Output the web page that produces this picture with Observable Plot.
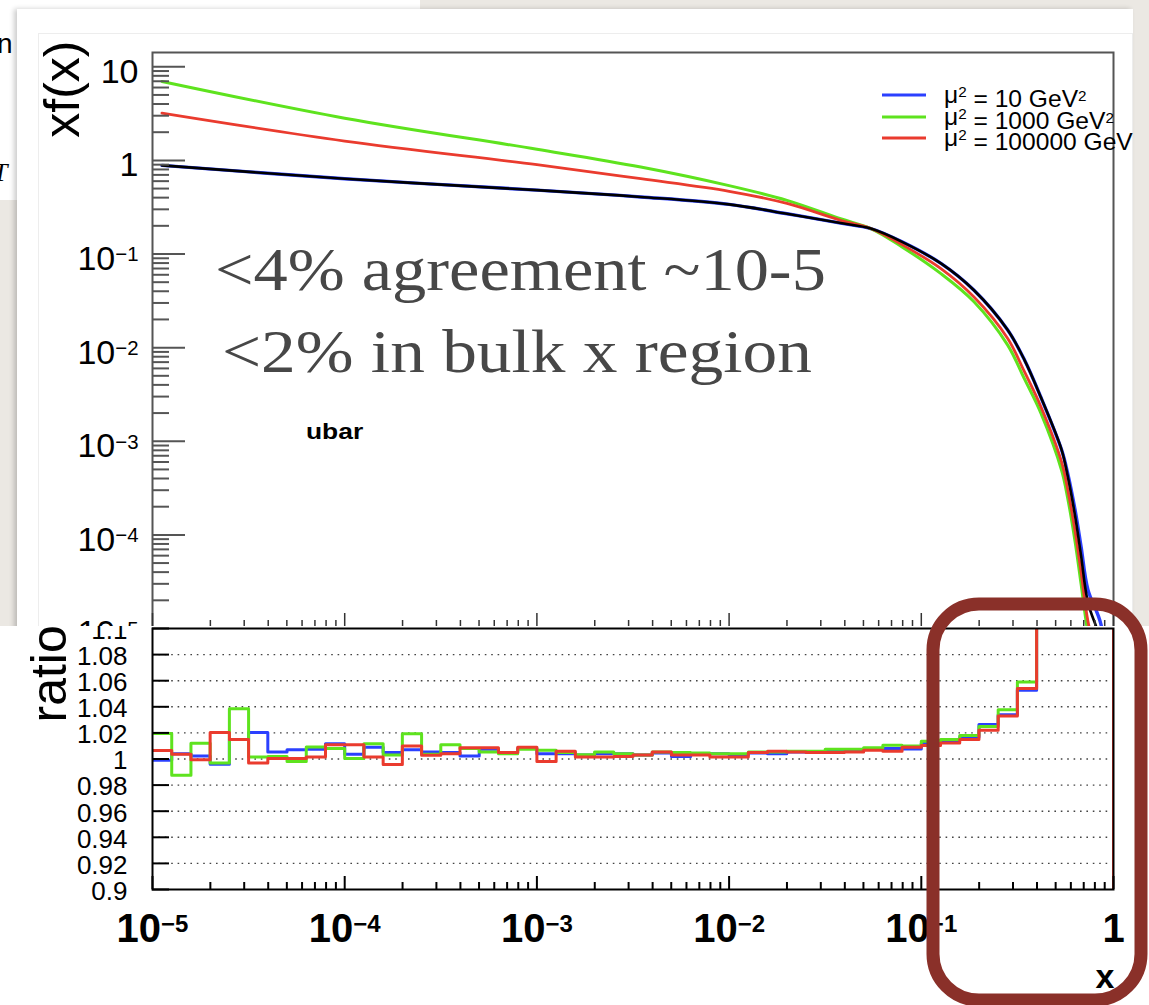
<!DOCTYPE html>
<html><head><meta charset="utf-8">
<script src="https://cdn.jsdelivr.net/npm/d3@7"></script>
<script src="https://cdn.jsdelivr.net/npm/@observablehq/plot@0.6"></script>
<style>
html,body{margin:0;padding:0;}
body{width:1149px;height:1005px;position:relative;overflow:hidden;background:#ebe8e3;font-family:"Liberation Sans",Arial,sans-serif;}
#topwhite{position:absolute;left:0;top:0;width:420px;height:12px;background:#fff;}
#leftwhite{position:absolute;left:0;top:0;width:17px;height:200px;background:#fff;}
#card{position:absolute;left:17px;top:9px;width:1116px;height:991px;background:#fff;box-shadow:-3px 0 5px rgba(0,0,0,0.2);}
#cframe{position:absolute;left:38px;top:33px;width:1093px;height:954px;border:1px solid #ededed;}
.layer{position:absolute;left:0;}
</style></head><body>
<div id="topwhite"></div><div id="leftwhite"></div><div id="card"></div><div id="cframe"></div>
<div id="top" class="layer" style="top:0px"></div>
<div id="ratio" class="layer" style="top:626px"></div>
<div id="over" class="layer" style="top:0px;pointer-events:none"></div>
<script>
// ---------- data ----------
const xDomain = [1e-5, 1];
const xMajor = [1e-5, 1e-4, 1e-3, 1e-2, 1e-1, 1];
const yTopDomain = [1e-5, 14.2];
const yTopMajor = [1e-5, 1e-4, 1e-3, 1e-2, 1e-1, 1, 10];

// xf(x) curves (ubar)
const curveX  = [1.12e-5, 1e-4, 1e-3, 0.00347, 0.01, 0.02, 0.038, 0.0546, 0.0794, 0.1265, 0.188, 0.281, 0.343, 0.419, 0.537, 0.577, 0.631, 0.678, 0.736, 0.861, 0.933];
const xfGreen = [6.97, 2.82, 1.315, 0.849, 0.537, 0.374, 0.238, 0.187, 0.119, 0.0617, 0.0309, 0.0107, 0.0047, 0.0020, 4.9e-4, 2.5e-4, 8.5e-5, 3.0e-5, 9.0e-6, 2.0e-6, 1e-6];
const xfRed   = [3.20, 1.61, 0.90, 0.637, 0.468, 0.347, 0.229, 0.187, 0.126, 0.0698, 0.0347, 0.0126, 0.0056, 0.00234, 6.0e-4, 3.1e-4, 1.1e-4, 4.0e-5, 1.2e-5, 3e-6, 1e-6];
const xfBlack = [0.885, 0.637, 0.481, 0.407, 0.339, 0.269, 0.214, 0.187, 0.135, 0.0794, 0.0410, 0.0155, 0.0075, 0.00295, 8.1e-4, 4.3e-4, 1.6e-4, 6.0e-5, 1.9e-5, 7e-6, 1e-6];
const xfBlue  = [0.885, 0.637, 0.481, 0.407, 0.339, 0.269, 0.214, 0.187, 0.135, 0.0794, 0.0410, 0.0155, 0.0075, 0.00295, 8.1e-4, 4.6e-4, 1.85e-4, 7.5e-5, 2.6e-5, 1.1e-5, 2e-6];

// ratio histogram: 50 log bins, low edges + upper edge 1
const binEdges = [
  1e-5, 1.259e-5, 1.585e-5, 1.995e-5, 2.512e-5, 3.162e-5, 3.981e-5, 5.012e-5, 6.310e-5, 7.943e-5,
  1e-4, 1.259e-4, 1.585e-4, 1.995e-4, 2.512e-4, 3.162e-4, 3.981e-4, 5.012e-4, 6.310e-4, 7.943e-4,
  1e-3, 1.259e-3, 1.585e-3, 1.995e-3, 2.512e-3, 3.162e-3, 3.981e-3, 5.012e-3, 6.310e-3, 7.943e-3,
  1e-2, 1.259e-2, 1.585e-2, 1.995e-2, 2.512e-2, 3.162e-2, 3.981e-2, 5.012e-2, 6.310e-2, 7.943e-2,
  1e-1, 1.259e-1, 1.585e-1, 1.995e-1, 2.512e-1, 3.162e-1, 3.981e-1, 5.012e-1, 6.310e-1, 7.943e-1, 1];
const ratioBlue = [
  0.999, 1.004, 1.0023, 0.996, 1.015, 1.0204, 1.0054, 1.007, 1.0074, 1.0117,
  1.0036, 1.009, 1.005, 1.0071, 1.0054, 1.005, 1.0023, 1.0074, 1.005, 1.008,
  1.004, 1.004, 1.003, 1.004, 1.004, 1.003, 1.0046, 1.002, 1.004, 1.004,
  1.003, 1.0046, 1.004, 1.0054, 1.005, 1.006, 1.006, 1.0078, 1.008, 1.0077,
  1.012, 1.0141, 1.0167, 1.0264, 1.034, 1.0526, 1.16, 1.3, 1.6, 2.4];
const ratioGreen = [
  1.0195, 0.9875, 1.012, 0.997, 1.0385, 1.0015, 1.002, 0.998, 1.0092, 1.008,
  1.0003, 1.0117, 1.003, 1.0194, 1.0036, 1.011, 1.008, 1.0054, 1.004, 1.0074,
  1.0067, 1.005, 1.0033, 1.0054, 1.004, 1.003, 1.0054, 1.005, 1.0046, 1.004,
  1.004, 1.0054, 1.0054, 1.006, 1.006, 1.0074, 1.0074, 1.0087, 1.0105, 1.010,
  1.0136, 1.015, 1.018, 1.025, 1.0377, 1.059, 1.17, 1.32, 1.65, 2.5];
const ratioRed = [
  1.0066, 1.0036, 0.9995, 1.0204, 1.015, 0.997, 1.0003, 1.0003, 1.0015, 1.011,
  1.011, 1.0015, 0.9957, 1.0099, 1.0028, 1.004, 1.0087, 1.0087, 1.005, 1.009,
  0.998, 1.006, 1.0015, 1.0015, 1.002, 1.003, 1.0054, 1.003, 1.003, 1.0015,
  1.0015, 1.005, 1.006, 1.0054, 1.005, 1.005, 1.0054, 1.0067, 1.006, 1.009,
  1.0103, 1.0123, 1.015, 1.022, 1.033, 1.054, 1.15, 1.3, 1.6, 2.4];
const ratioEndValue = 0;   // histogram closes to zero at x = 1
const ratioDomain = [0.9, 1.1];
const ratioTicks = [0.9, 0.92, 0.94, 0.96, 0.98, 1, 1.02, 1.04, 1.06, 1.08, 1.1];
const ratioGrid = [0.92, 0.94, 0.96, 0.98, 1, 1.02, 1.04, 1.06, 1.08];

const seriesNames = ["μ² = 10 GeV²", "μ² = 1000 GeV²", "μ² = 100000 GeV"];
const seriesColors = ["#2b40ff", "#5ee31e", "#ea3b2e"];
const refColor = "#000000";

// ---------- helpers ----------
const isPow10 = t => Math.abs(Math.log10(t) - Math.round(Math.log10(t))) < 1e-6;
const xMinor = d3.scaleLog().domain(xDomain).ticks().filter(t => !isPow10(t));
const yTopMinor = d3.scaleLog().domain(yTopDomain).ticks().filter(t => !isPow10(t));
const fmtPow = d => { const e = Math.round(Math.log10(d)); return e === 0 ? "1" : e === 1 ? "10" : `10^−${-e}`; };
const fmtRatio = d => String(+d.toFixed(2));
const blank = () => "";
const curveRows = ys => curveX.map((x, i) => ({x, y: ys[i]}));
const stepRows = vs => binEdges.map((x, i) => ({x, y: i < vs.length ? vs[i] : ratioEndValue}));

function supify(svg) {
  svg.querySelectorAll("text").forEach(t => {
    if (t.childElementCount) return;
    const m = /^10\^(.+)$/.exec(t.textContent);
    if (!m) return;
    t.textContent = "10";
    const ts = document.createElementNS("http://www.w3.org/2000/svg", "tspan");
    ts.setAttribute("dy", "-0.42em");
    ts.setAttribute("font-size", "0.6em");
    ts.textContent = m[1];
    t.appendChild(ts);
  });
}

const FONT = "'Liberation Sans', Arial, Helvetica, sans-serif";
const CURVE = "catmull-rom";

// ---------- top panel ----------
const topPlot = Plot.plot({
  width: 1149, height: 640,
  marginLeft: 152, marginRight: 36, marginTop: 52, marginBottom: 12,
  style: {fontFamily: FONT, background: "transparent"},
  x: {type: "log", domain: xDomain, label: null},
  y: {type: "log", domain: yTopDomain, label: null},
  marks: [
    Plot.line(curveRows(xfBlue),  {x: "x", y: "y", stroke: seriesColors[0], strokeWidth: 3.4, curve: CURVE, clip: true}),
    Plot.line(curveRows(xfGreen), {x: "x", y: "y", stroke: seriesColors[1], strokeWidth: 3, curve: CURVE, clip: true}),
    Plot.line(curveRows(xfRed),   {x: "x", y: "y", stroke: seriesColors[2], strokeWidth: 2.8, curve: CURVE, clip: true}),
    Plot.line(curveRows(xfBlack), {x: "x", y: "y", stroke: refColor, strokeWidth: 2.6, curve: CURVE, clip: true}),
    Plot.frame({stroke: "#555", strokeWidth: 2}),
    Plot.axisY(yTopMajor, {anchor: "left", tickSize: -33, tickFormat: blank, color: "#555", strokeWidth: 2, label: null}),
    Plot.axisY(yTopMinor, {anchor: "left", tickSize: -17, tickFormat: blank, color: "#555", strokeWidth: 2, label: null}),
    Plot.axisY(yTopMajor, {anchor: "left", tickSize: 0, tickPadding: 14, tickFormat: fmtPow, fontSize: 34, dy: 5, color: "#000", label: null}),
    Plot.axisX(xMajor, {anchor: "bottom", tickSize: -15, tickFormat: blank, color: "#333", strokeWidth: 1.5, label: null}),
    Plot.axisX(xMinor, {anchor: "bottom", tickSize: -8, tickFormat: blank, color: "#333", strokeWidth: 1.5, label: null}),
    Plot.text(["xf(x)"], {text: d => d, frameAnchor: "top-left", rotate: -90, textAnchor: "end", lineAnchor: "bottom", dx: -74, dy: -12, fontSize: 50})
  ]
});
supify(topPlot);
document.getElementById("top").appendChild(topPlot);

// ---------- ratio panel ----------
const ratioPlot = Plot.plot({
  width: 1149, height: 379,
  marginLeft: 152, marginRight: 36, marginTop: 2, marginBottom: 116,
  style: {fontFamily: FONT, background: "#fff"},
  x: {type: "log", domain: xDomain, label: null},
  y: {domain: ratioDomain, label: null},
  marks: [
    Plot.gridY(ratioGrid, {stroke: "#444", strokeOpacity: 1, strokeWidth: 1.4, strokeDasharray: "1.6,4.8"}),
    Plot.line(stepRows(ratioBlue),  {x: "x", y: "y", curve: "step-after", stroke: seriesColors[0], strokeWidth: 3, clip: true}),
    Plot.line(stepRows(ratioGreen), {x: "x", y: "y", curve: "step-after", stroke: seriesColors[1], strokeWidth: 3, clip: true}),
    Plot.line(stepRows(ratioRed),   {x: "x", y: "y", curve: "step-after", stroke: seriesColors[2], strokeWidth: 3, clip: true}),
    Plot.frame({stroke: "#000", strokeWidth: 2}),
    Plot.axisY(ratioTicks, {anchor: "left", tickSize: -17, tickFormat: blank, color: "#000", strokeWidth: 2, label: null}),
    Plot.axisY(ratioTicks, {anchor: "left", tickSize: 0, tickPadding: 25, tickFormat: fmtRatio, fontSize: 26, dy: 2, color: "#000", label: null}),
    Plot.axisX(xMajor, {anchor: "bottom", tickSize: -13, tickFormat: blank, color: "#000", strokeWidth: 2, label: null}),
    Plot.axisX(xMinor, {anchor: "bottom", tickSize: -7, tickFormat: blank, color: "#000", strokeWidth: 2, label: null}),
    Plot.axisX(xMajor, {anchor: "bottom", tickSize: 0, tickPadding: 24, tickFormat: fmtPow, fontSize: 40, fontWeight: "bold", color: "#000", label: null}),
    Plot.text(["ratio"], {text: d => d, frameAnchor: "top-left", rotate: -90, textAnchor: "start", lineAnchor: "bottom", dx: -87, dy: 94, fontSize: 50}),
    Plot.text(["x"], {text: d => d, frameAnchor: "bottom-right", textAnchor: "end", lineAnchor: "bottom", dx: 1, dy: 98, fontSize: 34, fontWeight: "bold"})
  ]
});
supify(ratioPlot);
document.getElementById("ratio").appendChild(ratioPlot);

// ---------- overlay: legend, labels, slide annotations ----------
const ov = d3.select("#over").append("svg").attr("width", 1149).attr("height", 1005)
  .style("font-family", FONT);

// left-edge fragments of the neighbouring slide text
ov.append("text").attr("x", -3).attr("y", 53).attr("font-size", 28).text("n");
ov.append("text").attr("x", -7).attr("y", 181).attr("font-size", 26).attr("font-style", "italic")
  .attr("font-family", "'Liberation Serif', serif").text("T");

// legend
const legY = [95, 117, 138];
seriesNames.forEach((name, i) => {
  ov.append("line").attr("x1", 882).attr("x2", 926).attr("y1", legY[i]).attr("y2", legY[i])
    .attr("stroke", seriesColors[i]).attr("stroke-width", 3);
  const t = ov.append("text").attr("transform", `translate(944,${legY[i] + 8}) scale(1.07,1)`).attr("font-size", 23);
  const parts = name.split("²");
  parts.forEach((p, j) => {
    t.append("tspan").attr("dy", j === 0 ? null : "0.42em").text(p);
    if (j < parts.length - 1) t.append("tspan").attr("dy", "-0.42em").attr("font-size", "0.62em").text("2");
  });
});

// pad label
ov.append("text").attr("transform", "translate(306,439) scale(1.2,1)").attr("font-size", 22).attr("font-weight", "bold").text("ubar");

// slide annotations
const notes = [
  {text: "<4% agreement ~10-5", x: 215, y: 290, w: 611},
  {text: "<2% in bulk x region", x: 222, y: 372, w: 590}
];
const ctx = document.createElement("canvas").getContext("2d");
ctx.font = "62px 'Liberation Serif'";
notes.forEach(n => {
  const k = n.w / ctx.measureText(n.text).width;
  ov.append("text").attr("transform", `translate(${n.x},${n.y}) scale(${k},1)`)
    .attr("font-family", "'Liberation Serif', 'Times New Roman', serif").attr("font-size", 62)
    .attr("fill", "#474747").text(n.text);
});

// highlight box
ov.append("rect").attr("x", 933).attr("y", 604).attr("width", 208).attr("height", 396)
  .attr("rx", 46).attr("ry", 46).attr("fill", "none").attr("stroke", "#8a3029").attr("stroke-width", 13);
</script>
</body></html>
